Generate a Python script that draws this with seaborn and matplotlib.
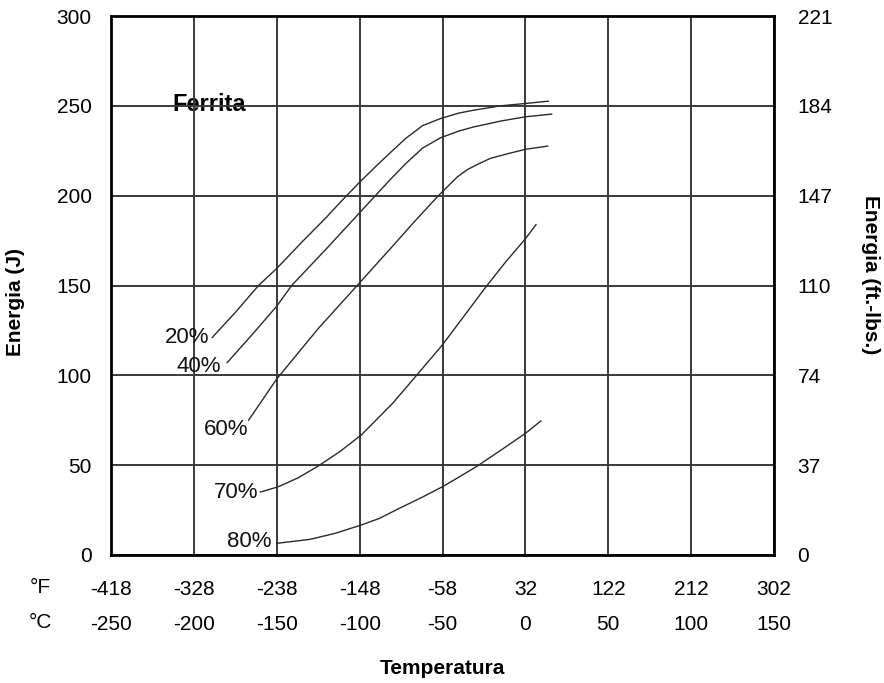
import matplotlib
matplotlib.use("Agg")
import matplotlib.pyplot as plt
import pandas as pd
import seaborn as sns

# axis ticks
temp_c_ticks = [-250, -200, -150, -100, -50, 0, 50, 100, 150]
temp_f_ticks = [-418, -328, -238, -148, -58, 32, 122, 212, 302]
energy_j_ticks = [0, 50, 100, 150, 200, 250, 300]
energy_ft_labels = [0, 37, 74, 110, 147, 184, 221]

# curves (temperature in C, energy in J)
t20 = [-189, -175, -161, -150, -135, -120, -112, -100, -90, -82, -72, -62,
       -51, -40, -31, -15, 0, 14]
e20 = [121, 135, 150, 159.5, 174, 188, 196, 207.5, 216.5, 223.5, 232, 239,
       243, 246, 247.6, 250, 251.3, 252.6]

t40 = [-180, -165, -150, -141, -120, -100, -92, -82, -72, -62, -51, -40,
       -31, -15, 0, 16]
e40 = [107, 122.5, 138.5, 150, 170.5, 190.5, 198.5, 208.5, 218, 226.5,
       232.3, 236, 238.3, 241.5, 243.9, 245.4]

t60 = [-167, -150, -125, -100, -80, -67, -53, -47, -41, -35, -28, -21,
       -10, 0, 13.6]
e60 = [75, 98, 126, 151.5, 172, 185.5, 199.5, 205, 210.5, 214.5, 217.8,
       220.8, 223.5, 225.8, 227.6]

t70 = [-160, -149, -137, -125, -112, -99, -80, -67.5, -50, -37, -24, -12,
       0, 6.5]
e70 = [35, 38, 43, 49.5, 57.5, 66.8, 84.5, 98, 117, 133, 149, 163, 176, 184]

t80 = [-150, -130, -115, -99, -88, -76, -63, -50, -40, -29, -15, 0, 9.5]
e80 = [6.5, 8.7, 12, 16.7, 20.4, 26, 31.8, 38, 43.4, 49.5, 58.2, 67.7, 74.7]

curve_names = ["20%", "40%", "60%", "70%", "80%"]
curve_t = [t20, t40, t60, t70, t80]
curve_e = [e20, e40, e60, e70, e80]

rows = []
for name, ts, es in zip(curve_names, curve_t, curve_e):
    for t, e in zip(ts, es):
        rows.append({"ferrita": name, "temp": t, "energia": e})
df = pd.DataFrame(rows)

sns.set_style("white")
plt.rcParams["font.family"] = ["Liberation Sans", "DejaVu Sans"]
plt.rcParams["text.color"] = "black"
plt.rcParams["axes.labelcolor"] = "black"
plt.rcParams["xtick.color"] = "black"
plt.rcParams["ytick.color"] = "black"

fig = plt.figure(figsize=(8.84, 6.83), dpi=100)
ax = fig.add_axes([111 / 884, 1 - 555 / 683, 663 / 884, 539 / 683])

for name in curve_names:
    sub = df[df["ferrita"] == name]
    sns.lineplot(data=sub, x="temp", y="energia", ax=ax, color="#2a2a2a",
                 lw=1.0, estimator=None, sort=False, legend=False)

# percentage labels next to the curve starts (offset in points)
label_offsets = [(-2, 0), (-4, -3), (0, -7), (-1, 0), (-4, 1)]
for name, ts, es, off in zip(curve_names, curve_t, curve_e, label_offsets):
    ax.annotate(name, (ts[0], es[0]), xytext=off, textcoords="offset points",
                ha="right", va="center", fontsize=16, color="#111")

ax.text(-213, 247, "Ferrita", fontsize=17, fontweight="bold", ha="left",
        va="baseline", zorder=0.4)

ax.set_xlim(-250, 150)
ax.set_ylim(0, 300)
ax.set_xticks(temp_c_ticks)
ax.set_xticklabels(temp_c_ticks)
ax.set_xticks(temp_c_ticks[1:-1], minor=True)
ax.set_yticks(energy_j_ticks)
ax.set_yticklabels(energy_j_ticks)
ax.set_yticks(energy_j_ticks[1:-1], minor=True)
ax.tick_params(axis="x", which="major", length=0, pad=43, labelsize=15)
ax.tick_params(axis="y", which="major", length=0, pad=14, labelsize=15)
ax.tick_params(which="minor", length=10, width=1.3, direction="out",
               color="#222")
ax.grid(True, which="major", color="#3a3a3a", lw=1.4)
ax.set_axisbelow(True)
for sp in ax.spines.values():
    sp.set_color("black")
    sp.set_linewidth(2)

ax.set_xlabel("Temperatura", fontsize=15, fontweight="bold", va="center")
ax.xaxis.set_label_coords(0.5, -0.21)
ax.set_ylabel("Energia (J)", fontsize=15, fontweight="bold")
ax.yaxis.set_label_coords(-0.13, 0.47)

# Fahrenheit row
sec = ax.secondary_xaxis("bottom", functions=(lambda c: c * 9 / 5 + 32,
                                              lambda f: (f - 32) * 5 / 9))
sec.set_xticks(temp_f_ticks)
sec.set_xticklabels(temp_f_ticks)
sec.tick_params(length=0, pad=18, labelsize=15)
sec.spines["bottom"].set_visible(False)

ax.text(-0.107, -0.061, "°F", transform=ax.transAxes, fontsize=15,
        ha="center", va="center")
ax.text(-0.107, -0.126, "°C", transform=ax.transAxes, fontsize=15,
        ha="center", va="center")

# right axis in ft-lbs
axr = ax.twinx()
axr.set_ylim(0, 300)
axr.set_yticks(energy_j_ticks)
axr.set_yticklabels(energy_ft_labels)
axr.set_yticks(energy_j_ticks[1:-1], minor=True)
axr.tick_params(axis="y", which="major", length=0, pad=17, labelsize=15)
axr.tick_params(axis="y", which="minor", length=11, width=1.3,
                direction="out", color="#222")
for sp in axr.spines.values():
    sp.set_visible(False)
axr.set_ylabel("Energia (ft.-lbs.)", fontsize=15, fontweight="bold",
               rotation=270, va="center")
axr.yaxis.set_label_coords(1.145, 0.52)

fig.savefig("out.png", dpi=100)
